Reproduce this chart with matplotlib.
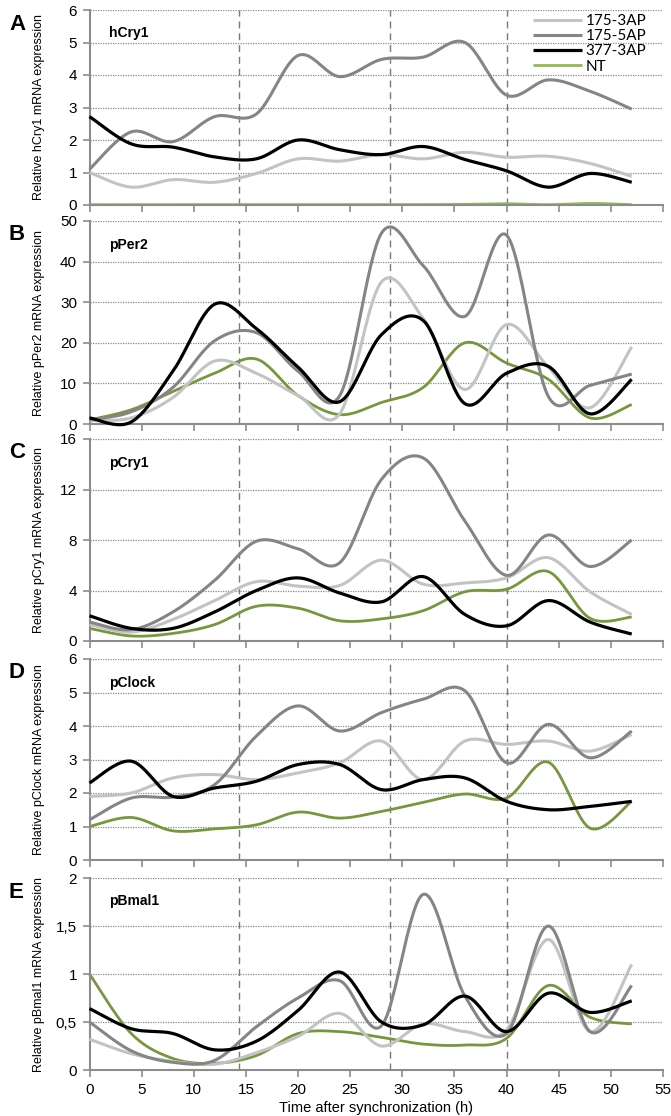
import numpy as np
import matplotlib
matplotlib.use("Agg")
import matplotlib.pyplot as plt
from matplotlib.ticker import FuncFormatter

# ---------------- data ----------------
time_h = [0, 4, 8, 12, 16, 20, 24, 28, 32, 36, 40, 44, 48, 52]
series_names = ["175-3AP", "175-5AP", "377-3AP", "NT"]

hcry1_175_3 = [1.0, 0.55, 0.78, 0.70, 0.97, 1.42, 1.35, 1.55, 1.42, 1.62, 1.47, 1.50, 1.28, 0.88]
hcry1_175_5 = [1.1, 2.25, 1.95, 2.72, 2.80, 4.60, 3.95, 4.48, 4.55, 5.00, 3.38, 3.85, 3.50, 2.95]
hcry1_377_3 = [2.72, 1.88, 1.78, 1.48, 1.42, 2.00, 1.70, 1.55, 1.80, 1.40, 1.05, 0.55, 0.97, 0.70]
hcry1_nt = [0.01, 0.01, 0.01, 0.01, 0.01, 0.01, 0.01, 0.01, 0.01, 0.02, 0.04, 0.01, 0.05, 0.01]

pper2_175_3 = [0.8, 1.5, 6.5, 15.5, 12.5, 7.0, 2.5, 35.0, 26.0, 8.5, 24.5, 14.0, 4.0, 19.0]
pper2_175_5 = [1.0, 3.0, 9.0, 20.5, 22.5, 13.0, 7.0, 47.0, 39.0, 26.5, 46.5, 6.8, 9.5, 12.3]
pper2_377_3 = [1.5, 0.5, 13.0, 29.5, 23.5, 14.0, 5.5, 22.0, 25.5, 5.0, 12.5, 14.2, 2.5, 11.0]
pper2_nt = [1.0, 3.5, 8.0, 12.5, 16.0, 7.0, 2.3, 5.3, 9.0, 20.0, 15.0, 11.0, 1.5, 4.8]

pcry1_175_3 = [1.3, 0.7, 1.7, 3.2, 4.7, 4.35, 4.4, 6.4, 4.5, 4.6, 5.0, 6.6, 3.9, 2.1]
pcry1_175_5 = [1.5, 0.9, 2.3, 4.8, 7.9, 7.3, 6.2, 12.8, 14.5, 9.5, 5.2, 8.4, 5.9, 8.0]
pcry1_377_3 = [2.0, 1.0, 1.0, 2.3, 4.0, 5.0, 3.8, 3.1, 5.1, 2.1, 1.2, 3.2, 1.5, 0.55]
pcry1_nt = [1.0, 0.4, 0.6, 1.3, 2.75, 2.6, 1.6, 1.75, 2.4, 3.9, 4.1, 5.5, 1.8, 1.9]

pclock_175_3 = [1.9, 2.0, 2.45, 2.55, 2.4, 2.6, 2.9, 3.55, 2.4, 3.55, 3.45, 3.55, 3.25, 3.75]
pclock_175_5 = [1.2, 1.85, 1.88, 2.25, 3.7, 4.6, 3.85, 4.4, 4.8, 5.05, 2.9, 4.05, 3.05, 3.85]
pclock_377_3 = [2.3, 2.95, 1.9, 2.15, 2.35, 2.85, 2.85, 2.1, 2.4, 2.45, 1.75, 1.5, 1.6, 1.75]
pclock_nt = [1.0, 1.27, 0.87, 0.93, 1.05, 1.43, 1.25, 1.45, 1.72, 1.97, 1.85, 2.92, 0.95, 1.75]

pbmal1_175_3 = [0.32, 0.17, 0.09, 0.06, 0.18, 0.35, 0.59, 0.25, 0.48, 0.40, 0.42, 1.36, 0.40, 1.10]
pbmal1_175_5 = [0.50, 0.20, 0.08, 0.10, 0.45, 0.75, 0.93, 0.46, 1.83, 0.77, 0.38, 1.50, 0.40, 0.88]
pbmal1_377_3 = [0.64, 0.43, 0.38, 0.21, 0.30, 0.62, 1.02, 0.50, 0.47, 0.77, 0.40, 0.80, 0.60, 0.72]
pbmal1_nt = [1.00, 0.38, 0.12, 0.07, 0.15, 0.38, 0.40, 0.34, 0.27, 0.26, 0.33, 0.88, 0.55, 0.48]

panel_letters = ["A", "B", "C", "D", "E"]
gene_names = ["hCry1", "pPer2", "pCry1", "pClock", "pBmal1"]
ylabels = ["Relative hCry1 mRNA expression", "Relative pPer2 mRNA expression",
           "Relative pCry1 mRNA expression", "Relative pClock mRNA expression",
           "Relative pBmal1 mRNA expression"]
yticks_list = [[0, 1, 2, 3, 4, 5, 6], [0, 10, 20, 30, 40, 50], [0, 4, 8, 12, 16],
               [0, 1, 2, 3, 4, 5, 6], [0, 0.5, 1, 1.5, 2]]
panel_data = [
    [hcry1_175_3, hcry1_175_5, hcry1_377_3, hcry1_nt],
    [pper2_175_3, pper2_175_5, pper2_377_3, pper2_nt],
    [pcry1_175_3, pcry1_175_5, pcry1_377_3, pcry1_nt],
    [pclock_175_3, pclock_175_5, pclock_377_3, pclock_nt],
    [pbmal1_175_3, pbmal1_175_5, pbmal1_377_3, pbmal1_nt],
]
dashed_times = [14.3, 28.8, 40.0]
xticks = [0, 5, 10, 15, 20, 25, 30, 35, 40, 45, 50, 55]

# ---------------- styling ----------------
colors = ["#c3c3c3", "#858585", "#000000", "#77973d"]
nt_color_a = "#92b957"
widths = [2.2, 2.2, 2.3, 2.0]

W, H = 671, 1116
panel_px = [(10, 205), (221, 424), (439, 641), (659, 860), (878, 1070)]
left_px, right_px = 89.5, 663


def smooth(x, y, n=24):
    """Excel-like smoothed line (Catmull-Rom Bezier) through data points."""
    x = np.asarray(x, float)
    y = np.asarray(y, float)
    P = np.column_stack([x, y])
    out = []
    t = np.linspace(0, 1, n)
    for i in range(len(P) - 1):
        p0 = P[i - 1] if i > 0 else P[i]
        p1 = P[i]
        p2 = P[i + 1]
        p3 = P[i + 2] if i + 2 < len(P) else P[i + 1]
        c1 = p1 + (p2 - p0) / 6.0
        c2 = p2 - (p3 - p1) / 6.0
        seg = ((1 - t) ** 3)[:, None] * p1 + (3 * (1 - t) ** 2 * t)[:, None] * c1 \
            + (3 * (1 - t) * t ** 2)[:, None] * c2 + (t ** 3)[:, None] * p2
        out.append(seg if i == 0 else seg[1:])
    S = np.vstack(out)
    return S[:, 0], S[:, 1]


tick_font = "Liberation Sans"
fig = plt.figure(figsize=(W / 100, H / 100), dpi=100)
fig.patch.set_facecolor("white")
axw = right_px - left_px

for k in range(5):
    top, bot = panel_px[k]
    ax = fig.add_axes([left_px / W, 1 - bot / H, axw / W, (bot - top) / H])
    yt = yticks_list[k]
    ax.set_xlim(0, 55)
    ax.set_ylim(yt[0], yt[-1])
    for yv in yt[1:]:
        ax.axhline(yv, color="#8a8a8a", lw=0.9, ls=(0, (1, 1)), zorder=1)
    for xv in dashed_times:
        ax.axvline(xv, color="#7a7a7a", lw=1.0, ls=(0, (5, 3.5)), zorder=1)
    for j, ys in enumerate(panel_data[k]):
        sx, sy = smooth(time_h, ys)
        c = colors[j]
        if k == 0 and j == 3:
            c = nt_color_a
        ax.plot(sx, sy, color=c, lw=widths[j], solid_capstyle="butt", zorder=3 + (j if j < 3 else -1),
                label=series_names[j], clip_on=False)
    for s in ["top", "right"]:
        ax.spines[s].set_visible(False)
    for s in ["left", "bottom"]:
        ax.spines[s].set_color("#8c8c8c")
        ax.spines[s].set_linewidth(1.5)
    ax.set_xticks(xticks)
    ax.set_yticks(yt)
    ax.tick_params(axis="both", direction="out", length=5, width=1.2, color="#8c8c8c",
                   labelsize=11, pad=4)
    for lab in ax.get_yticklabels() + ax.get_xticklabels():
        lab.set_fontfamily(tick_font)
    if k == 4:
        ax.yaxis.set_major_formatter(FuncFormatter(lambda v, p: ("%g" % v).replace(".", ",")))
        ax.set_xlabel("Time after synchronization (h)", fontsize=10.5, family=tick_font, labelpad=3)
    else:
        ax.tick_params(axis="x", labelbottom=False)
    ax.set_ylabel(ylabels[k], fontsize=9, family="Liberation Sans")
    ax.yaxis.set_label_coords(-44 / axw, 0.5)
    ax.text(20 / axw, 0.88, gene_names[k], transform=ax.transAxes,
            fontsize=10, fontweight="bold", family=tick_font, va="center")
    fig.text(9 / W, 1 - (top + 14) / H, panel_letters[k], fontsize=16, fontweight="bold",
             family="Liberation Sans", va="center", ha="left")
    if k == 0:
        ax.legend(loc="upper right", bbox_to_anchor=(0.995, 1.05), frameon=False,
                  handlelength=3.2, handletextpad=0.25, labelspacing=0.08,
                  prop={"family": "Lato", "size": 11})

fig.savefig("out.png", dpi=100, facecolor="white")
